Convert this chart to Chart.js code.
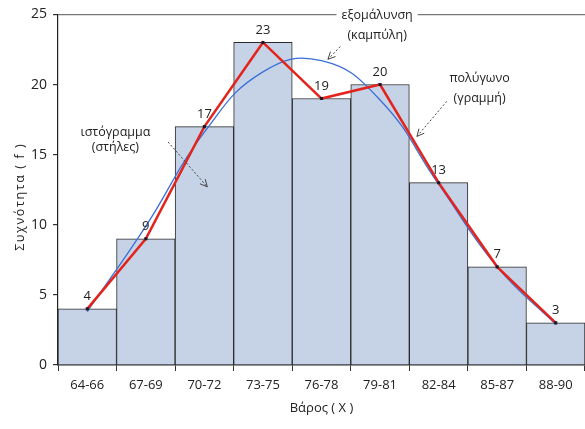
<!DOCTYPE html>
<html>
<head>
<meta charset="utf-8">
<script src="https://cdn.jsdelivr.net/npm/chart.js@4.4.0/dist/chart.umd.min.js"></script>
<style>
  html, body { margin: 0; padding: 0; background: #fff; }
  canvas { display: block; }
</style>
</head>
<body>
<canvas id="c" width="585" height="429"></canvas>
<script>
// data
const classes = ['64-66', '67-69', '70-72', '73-75', '76-78', '79-81', '82-84', '85-87', '88-90'];
const freq = [4, 9, 17, 23, 19, 20, 13, 7, 3];
const smooth = [3.8, 9.9, 16.6, 20.9, 21.7, 18.9, 12.9, 7.0, 2.9];
const yTicks = [0, 5, 10, 15, 20, 25];

const FONT = '"Open Sans", "Noto Sans", sans-serif';

// little helper: dashed line with an open arrow head
function arrow(ctx, x1, y1, x2, y2) {
    ctx.save();
    ctx.strokeStyle = '#444';
    ctx.lineWidth = 1;
    ctx.setLineDash([2, 2]);
    ctx.beginPath();
    ctx.moveTo(x1, y1);
    ctx.lineTo(x2, y2);
    ctx.stroke();
    ctx.setLineDash([]);
    let a = Math.atan2(y2 - y1, x2 - x1);
    ctx.beginPath();
    ctx.moveTo(x2 - 8 * Math.cos(a - 0.45), y2 - 8 * Math.sin(a - 0.45));
    ctx.lineTo(x2, y2);
    ctx.lineTo(x2 - 8 * Math.cos(a + 0.45), y2 - 8 * Math.sin(a + 0.45));
    ctx.stroke();
    ctx.restore();
}

// value labels, the three notes and the spaced-out y title
const notes = {
    id: 'notes',
    afterDatasetsDraw(chart) {
        let ctx = chart.ctx;
        let xs = chart.scales.x, ys = chart.scales.y;
        let px = i => xs.getPixelForValue(0) + i * (xs.getPixelForValue(1) - xs.getPixelForValue(0));
        let py = v => ys.getPixelForValue(v);

        ctx.save();
        ctx.fillStyle = '#222';
        ctx.font = '13px ' + FONT;
        ctx.textAlign = 'center';
        ctx.textBaseline = 'bottom';
        let meta = chart.getDatasetMeta(1);
        meta.data.forEach((pt, i) => {
            ctx.fillText(String(freq[i]), pt.x, pt.y - 6);
        });

        // top note sits on the 25 line, so clear behind it
        ctx.font = '12.5px ' + FONT;
        ctx.textBaseline = 'middle';
        let w = ctx.measureText('εξομάλυνση').width;
        ctx.fillStyle = '#fff';
        ctx.fillRect(px(4.95) - w / 2 - 5, py(25) - 8, w + 10, 16);
        ctx.fillStyle = '#222';
        ctx.fillText('εξομάλυνση', px(4.95), py(24.9));
        ctx.fillText('(καμπύλη)', px(4.95), py(23.5));

        ctx.fillText('ιστόγραμμα', px(0.48), py(16.6));
        ctx.fillText('(στήλες)', px(0.48), py(15.5));

        ctx.fillText('πολύγωνο', px(6.7), py(20.4));
        ctx.fillText('(γραμμή)', px(6.7), py(19.0));

        // y title
        ctx.translate(20, py(12));
        ctx.rotate(-Math.PI / 2);
        ctx.font = '500 12.5px ' + FONT;
        ctx.letterSpacing = '1.6px';
        ctx.fillText('Συχνότητα ( f )', 0, 0);
        ctx.restore();

        arrow(ctx, px(1.38), py(15.9), px(2.05), py(12.7));
        arrow(ctx, px(4.32), py(22.7), px(4.11), py(21.8));
        arrow(ctx, px(6.14), py(18.8), px(5.63), py(16.3));
    }
};

let ctx = document.getElementById('c').getContext('2d');
let chart = new Chart(ctx, {
    data: {
        labels: classes,
        datasets: [{
            type: 'line',
            label: 'εξομάλυνση',
            data: smooth,
            borderColor: '#3a6fd8',
            borderWidth: 1.3,
            pointRadius: 0,
            tension: 0.45,
            order: 1
        }, {
            type: 'line',
            label: 'πολύγωνο',
            data: freq,
            borderColor: '#e3241d',
            borderWidth: 2.5,
            tension: 0,
            pointStyle: 'rect',
            pointRadius: 2.2,
            pointBackgroundColor: '#1a1a2a',
            pointBorderColor: '#1a1a2a',
            pointBorderWidth: 0,
            order: 0
        }, {
            type: 'bar',
            label: 'ιστόγραμμα',
            data: freq,
            backgroundColor: '#c6d3e6',
            borderColor: '#2a2a2a',
            borderWidth: 1,
            barPercentage: 1,
            categoryPercentage: 1,
            order: 2
        }]
    },
    options: {
        responsive: false,
        animation: false,
        devicePixelRatio: 1,
        layout: {autoPadding: false, padding: {top: 14, right: 0, left: 0, bottom: 0}},
        plugins: {
            legend: {display: false},
            tooltip: {enabled: false}
        },
        scales: {
            x: {
                offset: true,
                grid: {
                    display: true,
                    drawOnChartArea: false,
                    offset: true,
                    tickLength: 6,
                    tickColor: '#333'
                },
                border: {color: '#222', width: 1.5},
                ticks: {color: '#222', font: {family: FONT, size: 13}, padding: 6},
                title: {
                    display: true,
                    text: 'Βάρος ( X )',
                    color: '#222',
                    font: {family: FONT, size: 13},
                    padding: {top: 0, bottom: 13}
                },
                afterFit: s => { s.height = 64; }
            },
            y: {
                min: 0,
                max: 25,
                afterBuildTicks: s => { s.ticks = yTicks.map(v => ({value: v})); },
                grid: {
                    color: c => (c.tick && c.tick.value === 25) ? '#777' : 'rgba(0,0,0,0)',
                    lineWidth: 1.2,
                    tickColor: '#333',
                    tickLength: 5
                },
                border: {color: '#222', width: 1.2},
                ticks: {color: '#222', font: {family: FONT, size: 14}, padding: 6},
                afterFit: s => { s.width = 58; }
            }
        }
    },
    plugins: [notes]
});
</script>
</body>
</html>
